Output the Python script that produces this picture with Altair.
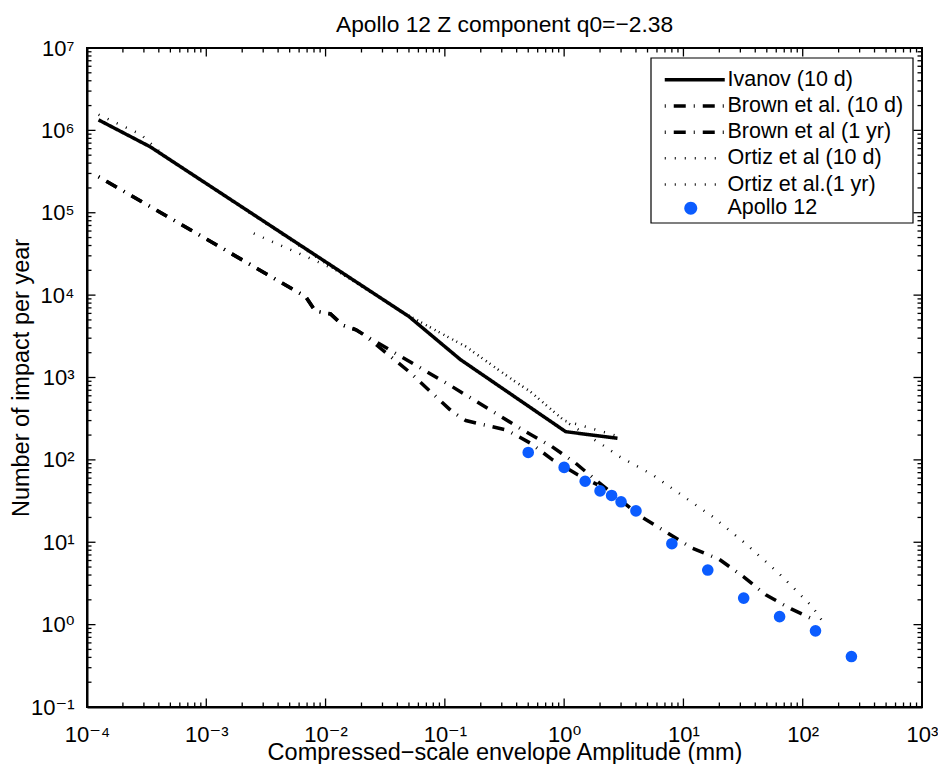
import altair as alt
import pandas as pd

# ---------------- data ----------------
line_names = ["Ivanov (10 d)", "Brown et al. (10 d)", "Brown et al (1 yr)",
              "Ortiz et al (10 d)", "Ortiz et al.(1 yr)"]
point_names = ["Apollo 12"]

ivanov_x = [1.25e-4, 3.4e-4, 0.05, 0.135, 1.03, 2.8]
ivanov_y = [1.34e6, 6.3e5, 5.5e3, 1.65e3, 220, 183]

brown10_x = [1.25e-4, 0.0068, 0.0082, 0.011, 0.014, 0.018, 0.021, 0.05, 0.115,
             0.15, 0.33, 0.52, 0.8, 1.3, 1.9]
brown10_y = [2.74e5, 9.6e3, 6.4e3, 5.9e3, 4.3e3, 3.8e3, 3.3e3, 1180, 385,
             300, 230, 160, 100, 66, 50]

brown1y_x = [1.25e-4, 0.0068, 0.0082, 0.011, 0.014, 0.018, 0.021, 0.115, 0.475,
             0.79, 1.25, 1.84, 4.4, 11.8, 20, 32, 49, 80, 132]
brown1y_y = [2.74e5, 9.6e3, 6.4e3, 5.9e3, 4.3e3, 3.8e3, 3.3e3, 776, 220,
             145, 91, 57, 20.5, 8.5, 6.2, 3.8, 2.3, 1.55, 1.1]

ortiz10_x = [1.25e-4, 2.8e-4, 4.5e-4, 0.012, 0.047, 0.078, 0.15, 0.37, 0.52, 1.0, 2.8]
ortiz10_y = [1.55e6, 9.0e5, 4.85e5, 2.05e4, 5.9e3, 3.95e3, 2.37e3, 935, 675, 300, 195]

ortiz1y_x = [2.5e-3, 0.012, 0.047, 0.078, 0.15, 0.37, 0.52, 1.0, 2.2, 2.9, 5.5,
             17.5, 33, 63, 120, 150]
ortiz1y_y = [5.6e4, 2.05e4, 5.9e3, 3.95e3, 2.37e3, 935, 675, 300, 145, 110, 66,
             20.5, 9.7, 4.2, 1.66, 1.05]

apollo_x = [0.5, 1, 1.5, 2, 2.5, 3, 4, 8, 16, 32, 64, 128, 256]
apollo_y = [123, 81, 55, 42, 37, 31, 24, 9.6, 4.6, 2.1, 1.25, 0.84, 0.41]

x_exponents = [-4, -3, -2, -1, 0, 1, 2, 3]
y_exponents = [-1, 0, 1, 2, 3, 4, 5, 6, 7]
minor_multipliers = [2, 3, 4, 5, 6, 7, 8, 9]

# ---------------- tables ----------------
rows = []
for name, xs, ys in [("Ortiz et al.(1 yr)", ortiz1y_x, ortiz1y_y),
                     ("Ortiz et al (10 d)", ortiz10_x, ortiz10_y),
                     ("Brown et al (1 yr)", brown1y_x, brown1y_y),
                     ("Brown et al. (10 d)", brown10_x, brown10_y),
                     ("Ivanov (10 d)", ivanov_x, ivanov_y)]:
    for i, (a, b) in enumerate(zip(xs, ys)):
        rows.append({"series": name, "x": a, "y": b, "i": i})
lines_df = pd.DataFrame(rows)
apollo_df = pd.DataFrame({"x": apollo_x, "y": apollo_y, "series": point_names * len(apollo_x)})

x_major = [10.0 ** e for e in x_exponents]
y_major = [10.0 ** e for e in y_exponents]
x_minor = [m * 10.0 ** e for e in x_exponents[:-1] for m in minor_multipliers]
y_minor = [m * 10.0 ** e for e in y_exponents[:-1] for m in minor_multipliers]
x_lo, x_hi = x_major[0], x_major[-1]
y_lo, y_hi = y_major[0], y_major[-1]

# ---------------- styling ----------------
W, H = 835, 659
FONT = "Liberation Sans, Arial, Helvetica, DejaVu Sans"
BLUE = "#0b5cff"
MAJ, MIN = 8.5, 4.5
LEG_X, LEG_Y, LEG_PAD = 565, 11, 10
LEG_FS = 21.5
PX_PER_DEC_X = W / (len(x_exponents) - 1)
PX_PER_DEC_Y = H / (len(y_exponents) - 1)

# inward frame ticks as short two-point segments (length given in pixels)
tick_rows = []
tid = 0
for vals, L in [(x_major, MAJ), (x_minor, MIN)]:
    f = 10 ** (L / PX_PER_DEC_Y)
    for v in vals:
        for a, b in ((y_lo, y_lo * f), (y_hi, y_hi / f)):
            tick_rows += [{"id": tid, "k": 0, "x": v, "y": a}, {"id": tid, "k": 1, "x": v, "y": b}]
            tid += 1
for vals, L in [(y_major, MAJ), (y_minor, MIN)]:
    f = 10 ** (L / PX_PER_DEC_X)
    for v in vals:
        for a, b in ((x_lo, x_lo * f), (x_hi, x_hi / f)):
            tick_rows += [{"id": tid, "k": 0, "x": a, "y": v}, {"id": tid, "k": 1, "x": b, "y": v}]
            tid += 1
ticks_df = pd.DataFrame(tick_rows)

sup = {"-": "\u207b", "0": "\u2070", "1": "\u00b9", "2": "\u00b2", "3": "\u00b3",
       "4": "\u2074", "5": "\u2075", "6": "\u2076", "7": "\u2077"}


def label_expr(exps):
    expr = "''"
    for e in reversed(exps):
        s = "10" + "".join(sup[c] for c in str(e))
        expr = f"(round(log(datum.value)/LN10) == {e}) ? '{s}' : ({expr})"
    return expr


xscale = alt.Scale(type="log", domain=[x_lo, x_hi], nice=False)
yscale = alt.Scale(type="log", domain=[y_lo, y_hi], nice=False)

xaxis = alt.Axis(values=x_major, labelExpr=label_expr(x_exponents),
                 title="Compressed\u2212scale envelope Amplitude (mm)",
                 grid=False, ticks=False, domain=True, domainColor="black", domainWidth=2,
                 labelFont=FONT, labelFontSize=22, labelColor="black",
                 labelPadding=17, labelFlush=False, labelOverlap=False,
                 titleFont=FONT, titleFontSize=23.5, titleFontWeight="normal",
                 titleColor="black", titlePadding=-5)
yaxis = alt.Axis(values=y_major, labelExpr=label_expr(y_exponents),
                 title="Number of impact per year",
                 grid=False, ticks=False, domain=True, domainColor="black", domainWidth=2,
                 labelFont=FONT, labelFontSize=22, labelColor="black",
                 labelPadding=13, labelFlush=False, labelOverlap=False,
                 titleFont=FONT, titleFontSize=23.5, titleFontWeight="normal",
                 titleColor="black", titlePadding=-3)

X = alt.X("x:Q", scale=xscale, axis=xaxis)
Y = alt.Y("y:Q", scale=yscale, axis=yaxis)

dash_range = [[1, 0], [1, 8, 12, 8], [1, 8, 12, 8], [1, 9], [1, 9]]
width_range = [3.5, 3.5, 3.5, 2.5, 2.5]
color_range = ["black"] * 5

line_legend = alt.Legend(
    title=None, orient="none", legendX=LEG_X, legendY=LEG_Y,
    symbolType="M-1,0H6.5", symbolSize=256,
    labelFont=FONT, labelFontSize=LEG_FS, labelColor="black", labelOffset=44,
    labelLimit=400, rowPadding=3.2, padding=LEG_PAD,
)
point_legend = alt.Legend(
    title=None, orient="none", legendX=LEG_X, legendY=139.5,
    symbolType="M3.06,0A0.81,0.81 0 1,1 1.44,0A0.81,0.81 0 1,1 3.06,0Z", symbolSize=256,
    symbolFillColor=BLUE, symbolStrokeWidth=0, symbolOpacity=1,
    labelFont=FONT, labelFontSize=LEG_FS, labelColor="black", labelOffset=44,
    labelLimit=400, padding=LEG_PAD,
)

one = pd.DataFrame({"k": [0]})

lines = alt.Chart(lines_df).mark_line(strokeCap="butt").encode(
    x=X, y=Y,
    order=alt.Order("i:Q"),
    color=alt.Color("series:N", scale=alt.Scale(domain=line_names, range=color_range), legend=line_legend),
    strokeDash=alt.StrokeDash("series:N", scale=alt.Scale(domain=line_names, range=dash_range), legend=line_legend),
    strokeWidth=alt.StrokeWidth("series:N", scale=alt.Scale(type="ordinal", domain=line_names, range=width_range), legend=line_legend),
)

points = alt.Chart(apollo_df).mark_point(size=135, filled=True, opacity=1, shape="circle").encode(
    x=X, y=Y,
    fill=alt.Fill("series:N", scale=alt.Scale(domain=point_names, range=[BLUE]), legend=point_legend),
)

ticks = alt.Chart(ticks_df).mark_line(color="black", strokeWidth=1.3, strokeCap="butt").encode(
    x=X, y=Y, detail="id:N", order=alt.Order("k:Q"))

legend_box = alt.Chart(one).mark_rect(
    fill="white", stroke="black", strokeWidth=1.2).encode(
    x=alt.value(LEG_X - 1), x2=alt.value(LEG_X + 261),
    y=alt.value(10), y2=alt.value(175))

chart = alt.layer(ticks, lines, points, legend_box).properties(
    width=W, height=H,
    background="white",
    title=alt.TitleParams("Apollo 12 Z component q0=\u22122.38", font=FONT, fontSize=22.8,
                          fontWeight="normal", color="black", anchor="middle", offset=0),
    padding={"left": 9, "top": 14, "right": 0, "bottom": 0},
).configure_view(stroke="black", strokeWidth=2)

chart.save("out.html", embed_options={"renderer": "svg", "actions": False})
